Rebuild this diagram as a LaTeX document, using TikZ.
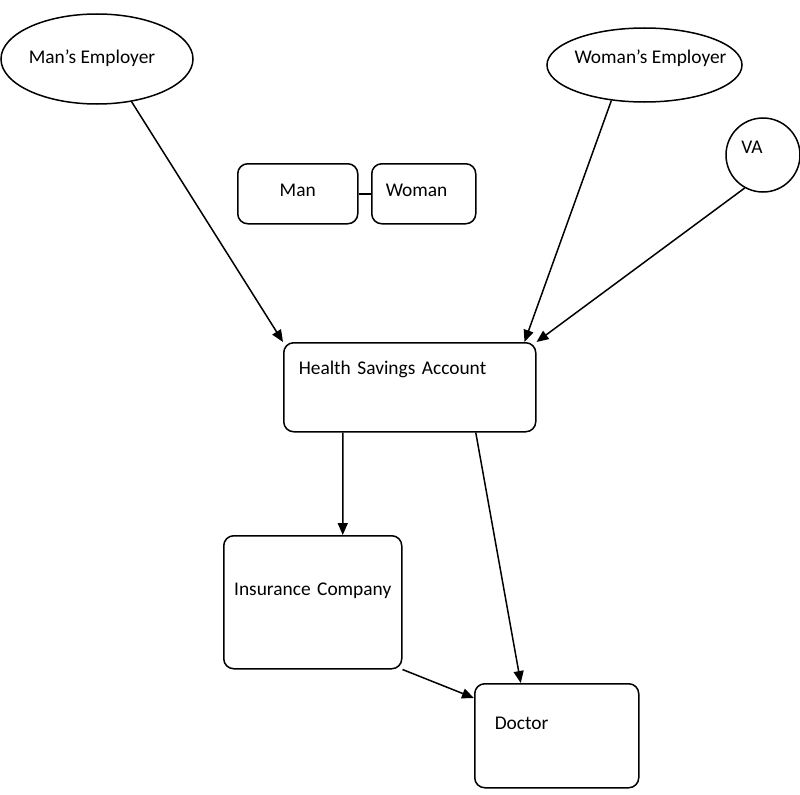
\documentclass[tikz,border=0pt]{standalone}
\usepackage{fontspec}
\setmainfont{Carlito}
\usetikzlibrary{arrows.meta,shapes.geometric}

\tikzset{
  caixa/.style={draw, line width=1.5bp, rounded corners=10bp, inner ysep=0pt,
    anchor=north west, font=\fontsize{19.4bp}{24bp}\selectfont},
  oval/.style={draw, ellipse, line width=1.5bp, inner ysep=0pt, inner xsep=-30bp,
    font=\fontsize{19.4bp}{24bp}\selectfont},
  seta/.style={line width=1.5bp, -{Triangle[length=12bp,width=10bp]}}
}

\begin{document}
\begin{tikzpicture}[x=1bp,y=-1bp]
  % Fundo branco com as medidas da figura.
  \fill[white] (0,0) rectangle (800,795);
  \useasboundingbox (0,0) rectangle (800,795);

  % Empregadores e VA no topo.
  \node[oval, minimum width=192bp, minimum height=90bp,
        text height=12.8bp, text depth=4bp] (mansemp) at (97,59) {Man’s Employer\kern10bp};
  \node[oval, minimum width=195bp, minimum height=74bp,
        text height=12bp, text depth=15.2bp] (womansemp) at (644.5,65) {\hspace*{12bp}Woman’s Employer};
  \node[draw, circle, line width=1.5bp, minimum size=74bp, inner sep=0pt,
        text height=12bp, text depth=15.2bp,
        font=\fontsize{19.4bp}{24bp}\selectfont] (va) at (763,155) {VA\kern22bp};

  % O casal.
  \node[caixa, inner xsep=5bp, text width=110bp, align=center,
        text height=32.5bp, text depth=27.5bp] (man) at (237,163) {Man};
  \node[caixa, inner xsep=14bp, text width=76bp, align=left,
        text height=32.5bp, text depth=27.5bp] (woman) at (371,163) {Woman};
  \draw[line width=1.5bp] (man) -- (woman);

  % Conta, seguradora e medico.
  \node[caixa, inner xsep=15bp, text width=222bp, align=left,
        text height=31.4bp, text depth=57.6bp] (hsa) at (283,342) {Health Savings Account};
  \node[caixa, inner xsep=4bp, text width=170bp, align=center,
        text height=59.4bp, text depth=73.6bp] (ins) at (223,535) {Insurance Company};
  \node[caixa, inner xsep=20bp, text width=124bp, align=left,
        text height=45.4bp, text depth=58.6bp] (doc) at (474,683) {Doctor};

  % Entradas na conta.
  \draw[seta] (mansemp.-51) -- (hsa.north west);
  \draw[seta] (womansemp.-133) -- ([xshift=-12bp]hsa.north east);
  \draw[seta] (va.-119) -- (hsa.north east);

  % Saidas da conta.
  \draw[seta] ([xshift=-67bp]hsa.south) -- ([xshift=30bp]ins.north);
  \draw[seta] ([xshift=66bp]hsa.south) -- ([xshift=-36bp]doc.north);
  \draw[seta] (ins.south east) -- ([yshift=-15bp]doc.north west);
\end{tikzpicture}
\end{document}
